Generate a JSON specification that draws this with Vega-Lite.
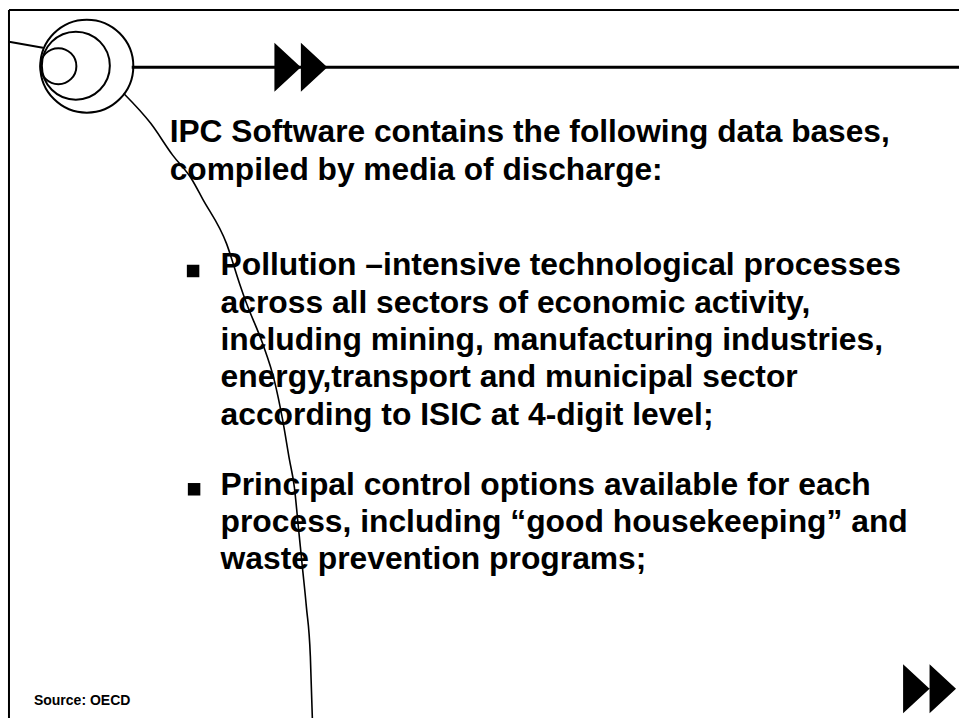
{
  "$schema": "https://vega.github.io/schema/vega-lite/v6.json",
  "width": 961,
  "height": 722,
  "padding": 0,
  "autosize": {"type": "fit", "contains": "padding"},
  "background": "white",
  "view": {"stroke": null},
  "config": {"text": {"font": "Liberation Sans", "fontWeight": "bold", "color": "black"}},
  "datasets": {
    "thin": [
      {"x": 9, "y": 10, "x2": 961, "y2": 10},
      {"x": 9, "y": 10, "x2": 9, "y2": 722},
      {"x": 9, "y": 42, "x2": 43, "y2": 48}
    ],
    "thick": [
      {"x": 132, "y": 67.5, "x2": 961, "y2": 67.5}
    ],
    "curve": [
      {"x": 124, "y": 94}, {"x": 151, "y": 124}, {"x": 173, "y": 156}, {"x": 192, "y": 180},
      {"x": 203, "y": 200}, {"x": 227, "y": 245}, {"x": 240, "y": 285}, {"x": 247, "y": 305},
      {"x": 263, "y": 345}, {"x": 275, "y": 383}, {"x": 283, "y": 421}, {"x": 290, "y": 462},
      {"x": 295, "y": 490}, {"x": 299, "y": 530}, {"x": 303, "y": 570}, {"x": 307, "y": 610},
      {"x": 311, "y": 660}, {"x": 313, "y": 722}
    ],
    "outer": [{"x": 87, "y": 66.5}],
    "middle": [{"x": 76, "y": 66}],
    "small": [{"x": 58.5, "y": 66.5}],
    "arrows": [{"x": 301.5, "y": 67.5}, {"x": 931.5, "y": 692.5}],
    "bullets": [{"x": 193.5, "y": 272.5}, {"x": 194.5, "y": 492}],
    "title": [
      {"x": 170, "y": 143, "text": "IPC Software contains the following data bases,"},
      {"x": 170, "y": 181, "text": "compiled by media of discharge:"}
    ],
    "body": [
      {"x": 221, "y": 277, "text": "Pollution –intensive technological processes"},
      {"x": 221, "y": 314.5, "text": "across all sectors of economic activity,"},
      {"x": 221, "y": 352, "text": "including mining, manufacturing industries,"},
      {"x": 221, "y": 389.5, "text": "energy,transport and municipal sector"},
      {"x": 221, "y": 427.5, "text": "according to ISIC at 4-digit level;"},
      {"x": 221, "y": 498, "text": "Principal control options available for each"},
      {"x": 221, "y": 535, "text": "process, including “good housekeeping” and"},
      {"x": 221, "y": 572, "text": "waste prevention programs;"}
    ],
    "source": [{"x": 34, "y": 709, "text": "Source: OECD"}]
  },
  "encoding": {
    "x": {"field": "x", "type": "quantitative", "scale": {"domain": [0, 961], "nice": false, "zero": false}, "axis": null},
    "y": {"field": "y", "type": "quantitative", "scale": {"domain": [0, 722], "nice": false, "zero": false, "reverse": true}, "axis": null}
  },
  "layer": [
    {
      "data": {"name": "thin"},
      "mark": {"type": "rule", "color": "black", "strokeWidth": 2},
      "encoding": {"x2": {"field": "x2"}, "y2": {"field": "y2"}}
    },
    {
      "data": {"name": "thick"},
      "mark": {"type": "rule", "color": "black", "strokeWidth": 3},
      "encoding": {"x2": {"field": "x2"}, "y2": {"field": "y2"}}
    },
    {
      "data": {"name": "curve"},
      "mark": {"type": "line", "color": "black", "strokeWidth": 1.6, "interpolate": "monotone"},
      "encoding": {}
    },
    {
      "data": {"name": "outer"},
      "mark": {"type": "point", "shape": "circle", "filled": false, "size": 8649, "color": "black", "strokeWidth": 2, "opacity": 1}
    },
    {
      "data": {"name": "middle"},
      "mark": {"type": "point", "shape": "circle", "filled": false, "size": 4624, "color": "black", "strokeWidth": 2, "opacity": 1}
    },
    {
      "data": {"name": "small"},
      "mark": {"type": "point", "shape": "circle", "filled": false, "size": 1296, "color": "black", "strokeWidth": 2, "opacity": 1}
    },
    {
      "data": {"name": "arrows"},
      "mark": {"type": "point", "shape": "M -1.08,-1 L 0,0 L -1.08,1 Z M 0,-1 L 1.08,0 L 0,1 Z", "filled": true, "size": 2401, "color": "black", "strokeWidth": 0, "opacity": 1}
    },
    {
      "data": {"name": "bullets"},
      "mark": {"type": "point", "shape": "square", "filled": true, "size": 156, "color": "black", "strokeWidth": 0, "opacity": 1}
    },
    {
      "data": {"name": "title"},
      "mark": {"type": "text", "align": "left", "baseline": "alphabetic", "fontSize": 31.7},
      "encoding": {"text": {"field": "text"}}
    },
    {
      "data": {"name": "body"},
      "mark": {"type": "text", "align": "left", "baseline": "alphabetic", "fontSize": 31.8},
      "encoding": {"text": {"field": "text"}}
    },
    {
      "data": {"name": "source"},
      "mark": {"type": "text", "align": "left", "baseline": "alphabetic", "fontSize": 14},
      "encoding": {"text": {"field": "text"}}
    }
  ]
}
